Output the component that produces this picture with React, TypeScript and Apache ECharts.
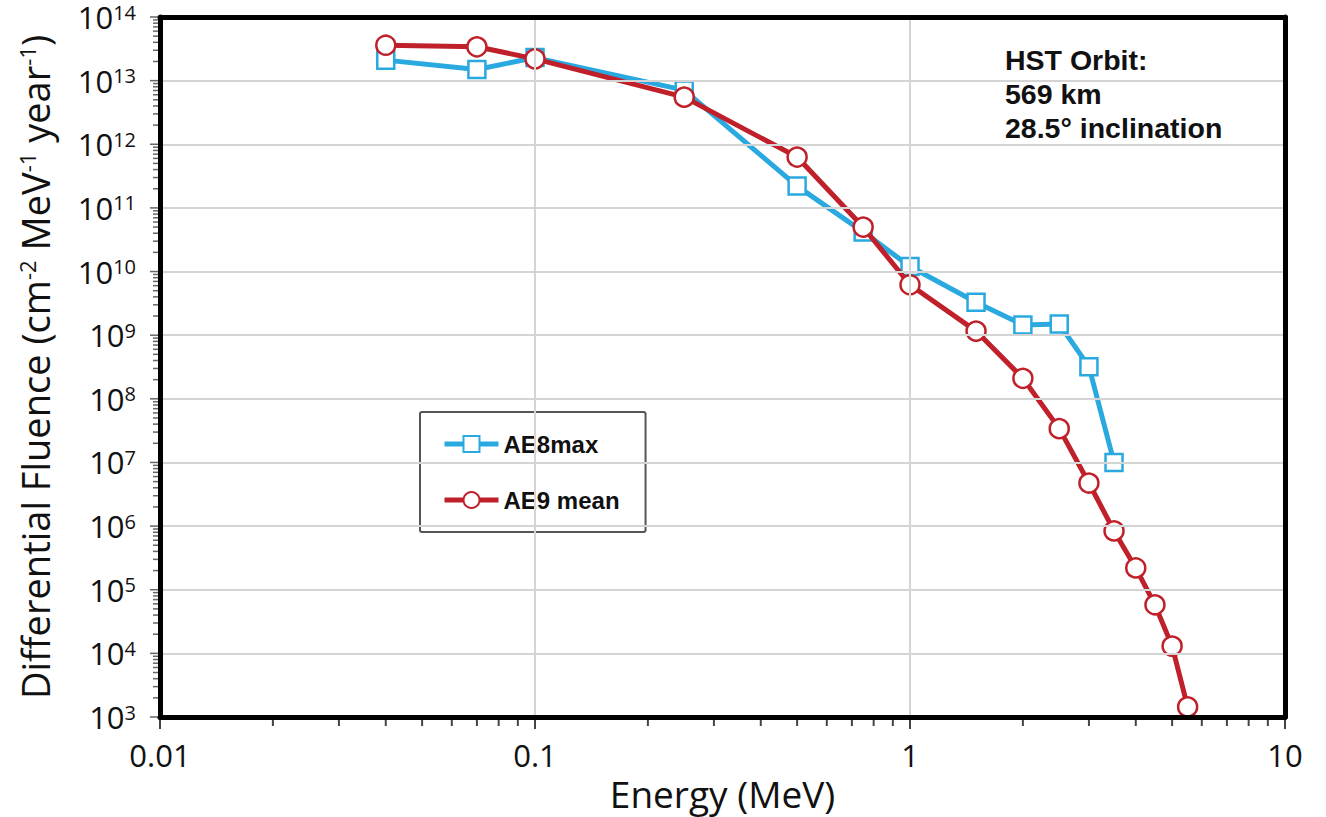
import React, { useEffect, useRef } from "react";
import * as echarts from "echarts";

const ae8Energy = [0.04, 0.07, 0.1, 0.25, 0.5, 0.75, 1, 1.5, 2, 2.5, 3, 3.5];
const ae8Flux = [2.1e13, 1.5e13, 2.3e13, 7.1e12, 2.2e11, 4.2e10, 1.2e10, 3.3e9, 1.45e9, 1.5e9, 3.2e8, 1.0e7];
const ae9Energy = [0.04, 0.07, 0.1, 0.25, 0.5, 0.75, 1, 1.5, 2, 2.5, 3, 3.5, 4, 4.5, 5, 5.5];
const ae9Flux = [3.6e13, 3.4e13, 2.2e13, 5.5e12, 6.3e11, 5.0e10, 6.2e9, 1.16e9, 2.1e8, 3.4e7, 4.75e6, 8.4e5, 2.2e5, 5.8e4, 1.3e4, 1.44e3];
const xTickLabels = ["0.01", "0.1", "1", "10"];
const annotationLines = ["HST Orbit:", "569 km", "28.5\u00b0 inclination"];

const FONT = "'Open Sans', 'Noto Sans', sans-serif";
const BOLD = "'Liberation Sans', Arial, sans-serif";

function minorTicks(lo: number, hi: number): number[] {
  const out: number[] = [];
  for (let e = lo; e < hi; e++) {
    for (let m = 1; m <= 9; m++) out.push(m * Math.pow(10, e));
  }
  out.push(Math.pow(10, hi));
  return out;
}

const isMajor = (v: number) => Math.abs(Math.log10(v) - Math.round(Math.log10(v))) < 1e-6;

export default function App() {
  const ref = useRef<HTMLDivElement>(null);
  useEffect(() => {
    const chart = echarts.init(ref.current!, null, { renderer: "svg" });
    const xt = minorTicks(-2, 1);
    const yt = minorTicks(3, 14);
    const frameLine = { show: true, lineStyle: { color: "#000", width: 5 } };
    const option: any = {
      animation: false,
      backgroundColor: "#ffffff",
      grid: { left: 160, right: 41, top: 17, bottom: 100 },
      xAxis: [
        {
          type: "log",
          min: 0.01,
          max: 10,
          logBase: 10,
          interval: 1,
          splitNumber: 3,
          name: "Energy (MeV)",
          nameLocation: "middle",
          nameGap: 56,
          nameTextStyle: { fontFamily: FONT, fontSize: 37, lineHeight: 37, color: "#111" },
          axisLine: frameLine,
          axisTick: { show: false },
          splitLine: { show: true, lineStyle: { color: "#d4d4d4", width: 2 } },
          axisLabel: {
            fontFamily: FONT,
            fontSize: 31,
            lineHeight: 31,
            color: "#111",
            margin: 22,
            formatter: (v: number) => {
              const i = Math.round(Math.log10(v)) + 2;
              return xTickLabels[i] ?? String(v);
            },
          },
          z: 5,
        },
        {
          type: "log",
          position: "top",
          min: 0.01,
          max: 10,
          logBase: 10,
          interval: 1,
          axisLine: frameLine,
          axisTick: { show: false },
          axisLabel: { show: false },
          splitLine: { show: false },
          z: 5,
        },
      ],
      yAxis: [
        {
          type: "log",
          min: 1e3,
          max: 1e14,
          logBase: 10,
          interval: 1,
          splitNumber: 11,
          name: "Differential Fluence (cm{sup|-2} MeV{sup|-1} year{sup|-1})",
          nameLocation: "middle",
          nameRotate: 90,
          nameGap: 106,
          nameTextStyle: {
            fontFamily: FONT,
            fontSize: 38,
            color: "#111",
            rich: {
              sup: { fontFamily: FONT, fontSize: 22, color: "#111", verticalAlign: "top", padding: [0, 0, 16, 0] },
            },
          },
          axisLine: frameLine,
          axisTick: { show: false },
          splitLine: { show: true, lineStyle: { color: "#d4d4d4", width: 2 } },
          axisLabel: {
            fontFamily: FONT,
            color: "#111",
            margin: 24,
            formatter: (v: number) => `{b|10}{sup|${Math.round(Math.log10(v))}}`,
            rich: {
              b: { fontFamily: FONT, fontSize: 31, lineHeight: 30, color: "#111" },
              sup: { fontFamily: FONT, fontSize: 20, lineHeight: 20, color: "#111", verticalAlign: "top", padding: [0, 0, 10, 0] },
            },
          },
          z: 5,
        },
        {
          type: "log",
          position: "right",
          min: 1e3,
          max: 1e14,
          logBase: 10,
          interval: 1,
          axisLine: frameLine,
          axisTick: { show: false },
          axisLabel: { show: false },
          splitLine: { show: false },
          z: 5,
        },
      ],
      legend: {
        orient: "vertical",
        left: 420,
        top: 412,
        padding: [20, 26, 20, 22],
        itemGap: 32,
        itemWidth: 54,
        itemHeight: 20,
        borderColor: "#555",
        borderWidth: 2,
        borderRadius: 2,
        backgroundColor: "#fff",
        lineStyle: { width: 5 },
        textStyle: { fontFamily: BOLD, fontWeight: "bold", fontSize: 24, color: "#111" },
        data: ["AE8max", "AE9 mean"],
      },
      graphic: annotationLines.map((t, i) => ({
        type: "text",
        left: 1005,
        top: 45 + i * 34,
        style: {
          text: t,
          fontFamily: BOLD,
          fontWeight: "bold",
          fontSize: 28.5,
          fill: "#111",
        },
      })),
      series: [
        {
          type: "custom",
          silent: true,
          clip: false,
          z: 1,
          data: xt.map((v) => [v, 1e3]),
          renderItem: (params: any, api: any) => {
            const v = api.value(0);
            const p = api.coord([v, api.value(1)]);
            const major = isMajor(v);
            return {
              type: "line",
              shape: { x1: p[0], y1: p[1] + 2, x2: p[0], y2: p[1] + (major ? 12 : 9) },
              style: { stroke: "#444", lineWidth: 2 },
            };
          },
        },
        {
          type: "custom",
          silent: true,
          clip: false,
          z: 1,
          data: yt.map((v) => [0.01, v]),
          renderItem: (params: any, api: any) => {
            const v = api.value(1);
            const p = api.coord([api.value(0), v]);
            const major = isMajor(v);
            return {
              type: "line",
              shape: { x1: p[0] - 2, y1: p[1], x2: p[0] - (major ? 10 : 7), y2: p[1] },
              style: { stroke: "#666", lineWidth: 1.5 },
            };
          },
        },
        {
          name: "AE8max",
          type: "line",
          data: ae8Energy.map((x, i) => [x, ae8Flux[i]]),
          symbol: "rect",
          symbolSize: 17,
          lineStyle: { color: "#29a9e0", width: 5 },
          itemStyle: { color: "#ffffff", borderColor: "#29a9e0", borderWidth: 2.5 },
          z: 3,
        },
        {
          name: "AE9 mean",
          type: "line",
          data: ae9Energy.map((x, i) => [x, ae9Flux[i]]),
          symbol: "circle",
          symbolSize: 19,
          lineStyle: { color: "#c0202a", width: 5 },
          itemStyle: { color: "#ffffff", borderColor: "#c0202a", borderWidth: 2.5 },
          z: 4,
        },
      ],
    };
    chart.setOption(option);
    return () => chart.dispose();
  }, []);
  return <div ref={ref} style={{ position: "absolute", left: 0, top: 0, width: 1326, height: 817 }} />;
}
